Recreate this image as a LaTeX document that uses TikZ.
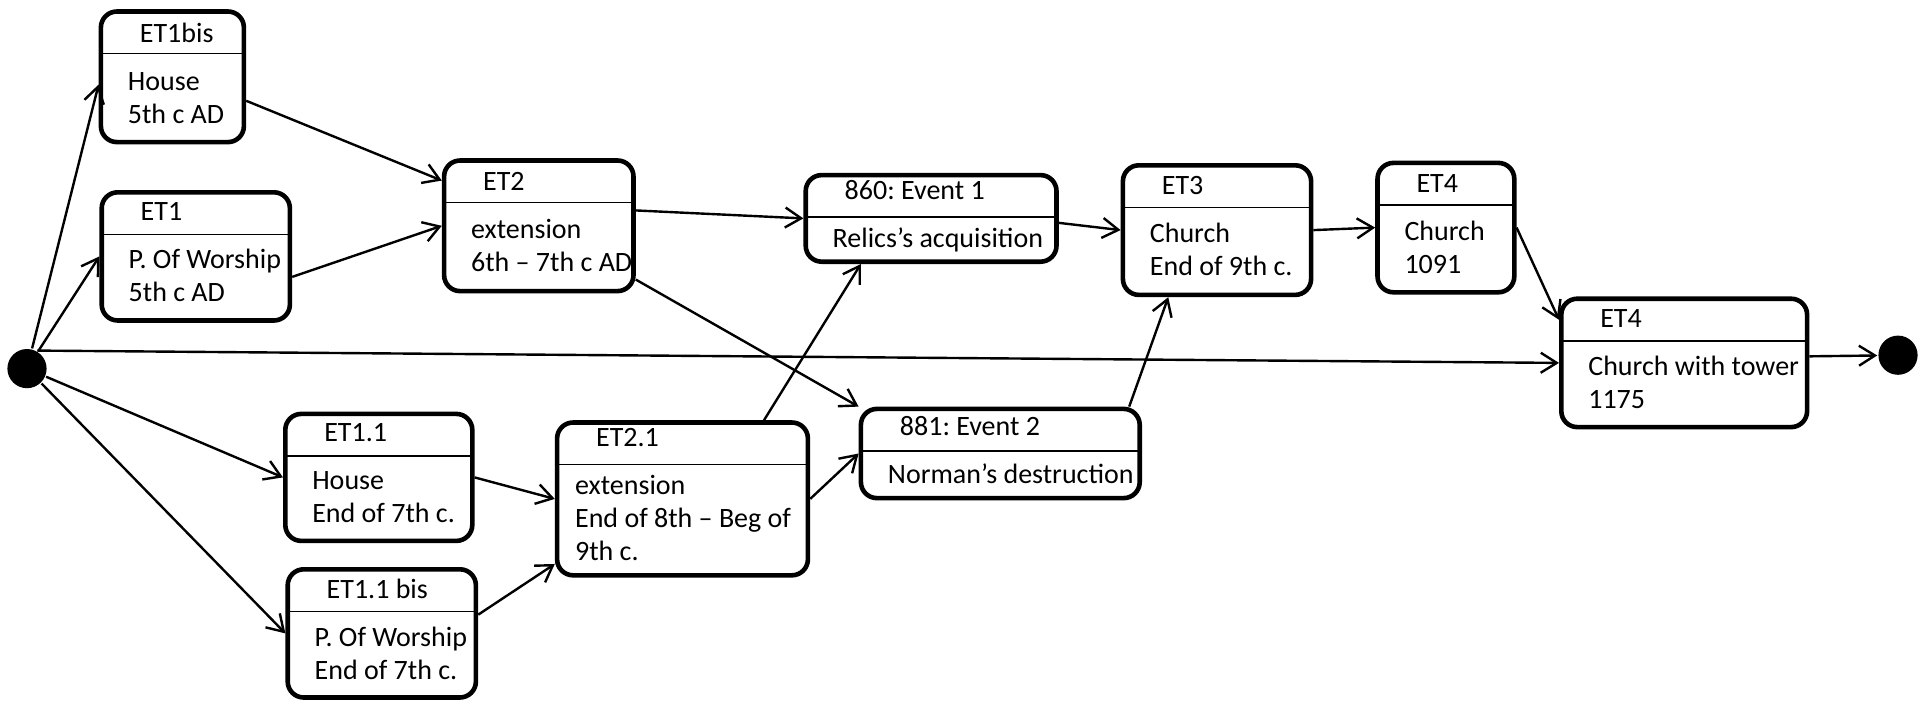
\documentclass[tikz,border=0pt]{standalone}
\usepackage{fontspec}
\setmainfont{Carlito}
\usetikzlibrary{arrows.meta}

\begin{document}
\begin{tikzpicture}[->,>={Straight Barb[length=8pt,width=10pt]},x=1pt,y=-1pt,line width=1.2pt]
	\tikzset{stage/.style = {shape=rectangle, rounded corners=8pt, line width=2.3pt, draw, align=left, anchor=north west,
			inner xsep=0pt, inner ysep=1pt, font=\fontsize{14}{16.5}\selectfont,
			execute at begin node={\leftskip=13.5pt\rightskip=-20pt plus 1fil\spaceskip=0pt\xspaceskip=0pt\frenchspacing\baselineskip=16.5pt},
			execute at end node={\rule[-4pt]{0pt}{0pt}},
			path picture={\draw[-,line width=0.8pt] ([yshift=-21pt]path picture bounding box.north west) -- ([yshift=-21pt]path picture bounding box.north east);}}}
	\tikzset{pseudo/.style = {shape=circle, fill, draw=none, inner sep=0pt, minimum size=19.6pt}}
	\useasboundingbox (0,0) rectangle (960,350.5);
	
	\node[pseudo] (INIT) at (13.5,184.3) {};
	\node[pseudo] (FINAL) at (949,177.6) {};
	
	\node[stage, text width=71.5pt, minimum height=65.3pt] (ET1BIS) at (49.3,4.6)
	{\hspace*{6pt}ET1bis\\[7.5pt]
		House\\
		5th c AD};
	\node[stage, text width=94.1pt, minimum height=64.1pt] (ET1) at (49.7,95.0)
	{\hspace*{6pt}ET1\\[7.5pt]
		P. Of Worship\\
		5th c AD};
	\node[stage, text width=94.7pt, minimum height=65.3pt] (ET2) at (220.9,79.1)
	{\hspace*{6pt}ET2\\[7.5pt]
		extension\\
		6th -- 7th c AD};
	\node[stage, text width=125.4pt, minimum height=43.3pt] (EV1) at (401.7,86.4)
	{\hspace*{6pt}860: Event 1\\[7.5pt]
		Relics’s acquisition};
	\node[stage, text width=94.1pt, minimum height=64.8pt] (ET3) at (560.3,81.5)
	{\hspace*{6pt}ET3\\[7.5pt]
		Church\\
		End of 9th c.};
	\node[stage, text width=68.4pt, minimum height=64.7pt] (ET4) at (687.6,80.3)
	{\hspace*{6pt}ET4\\[7.5pt]
		Church\\
		1091};
	\node[stage, text width=122.9pt, minimum height=64.2pt] (ET4T) at (779.5,148.2)
	{\hspace*{6pt}ET4\\[7.5pt]
		Church with tower\\
		1175};
	\node[stage, text width=93.5pt, minimum height=63.5pt] (ET11) at (141.5,205.8)
	{\hspace*{6pt}ET1.1\\[7.5pt]
		House\\
		End of 7th c.};
	\node[stage, text width=94.1pt, minimum height=64.1pt] (ET11BIS) at (142.7,283.5)
	{\hspace*{6pt}ET1.1 bis\\[7.5pt]
		P. Of Worship\\
		End of 7th c.};
	\node[stage, text width=125.4pt, minimum height=76.4pt, execute at begin node={\leftskip=9pt}] (ET21) at (277.4,210.1)
	{\hspace*{10.5pt}ET2.1\\[7.5pt]
		extension\\
		End of 8th -- Beg of\\
		9th c.};
	\node[stage, text width=139.4pt, minimum height=44.6pt] (EV2) at (429.3,203.3)
	{\hspace*{6pt}881: Event 2\\[7.5pt]
		Norman’s destruction};
	
	\draw (INIT) -- (ET1BIS.186);
	\draw (INIT) -- (ET1.west);
	\draw (INIT.60) -- (ET4T.west);
	\draw (INIT) -- (ET11.west);
	\draw (INIT) -- (ET11BIS.west);
	\draw (ET1BIS.-18) -- (ET2.155);
	\draw (ET1.-12) -- (ET2.west);
	\draw (ET2.9) -- (EV1.west);
	\draw (ET2.-29) -- (EV2.north west);
	\draw (ET11.east) -- (ET21.west);
	\draw (ET11BIS.11) -- (ET21.207);
	\draw (ET21.44) -- (EV1.213);
	\draw (ET21.east) -- (EV2.west);
	\draw (EV1.-2) -- (ET3.west);
	\draw (EV2.20) -- (ET3.234);
	\draw (ET3.east) -- (ET4.west);
	\draw (ET4.east) -- (ET4T.161);
	\draw (ET4T.3) -- (FINAL);
\end{tikzpicture}
\end{document}
